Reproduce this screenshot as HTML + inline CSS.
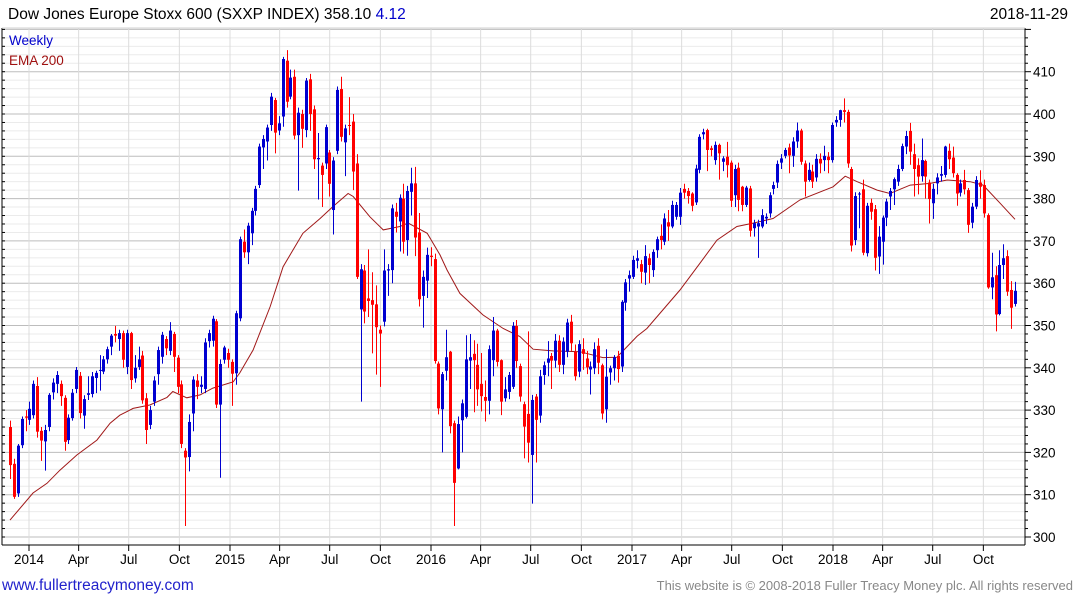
<!DOCTYPE html>
<html><head><meta charset="utf-8"><style>
html,body{margin:0;padding:0;background:#fff;}
svg{display:block;font-family:"Liberation Sans",sans-serif;}
</style></head><body>
<svg id="chart" width="1075" height="600" viewBox="0 0 1075 600" xmlns="http://www.w3.org/2000/svg">
<rect x="0" y="0" width="1075" height="600" fill="#fff"/>
<g id="grid"></g>
<g id="axes"></g>
<g id="ema"></g>
<g id="bars"></g>
<text x="8" y="19" font-size="15.5" fill="#000">Dow Jones Europe Stoxx 600 (SXXP INDEX) 358.10 <tspan fill="#0000cc">4.12</tspan></text>
<text x="1068" y="19" font-size="15.5" fill="#000" text-anchor="end">2018-11-29</text>
<text x="9" y="45" font-size="13.5" fill="#0000cc">Weekly</text>
<text x="9" y="65" font-size="13.5" fill="#a01010">EMA 200</text>
<text x="2" y="590" font-size="15.5" fill="#2222cc">www.fullertreacymoney.com</text>
<text x="1073" y="590" font-size="13" fill="#888" text-anchor="end">This website is © 2008-2018 Fuller Treacy Money plc. All rights reserved</text>
</svg>
<script>
const opens=[326,317.3,310.3,321.7,328.5,327.7,328.8,335.7,325.1,322.6,326,334.2,336.2,336.2,332.9,322.9,328.1,335,338.1,328.7,333.6,333.8,337.6,339.5,339.1,342,345,348,346.8,348.2,340.2,348.2,337.5,340.2,342.9,332.8,326.5,332,338.5,342.6,346.8,344,348,342.4,336.1,320.4,318.9,329.2,337,335.5,335,346.3,346.4,351,331.3,341.9,343.5,341.4,338.7,351.7,369.8,367.3,371.8,377.1,383.2,392.1,393.5,397.4,403.3,396.1,399.4,412.6,404.1,408.8,395,400,396.2,408.2,401.1,389.3,387.8,388.3,390.9,377.3,391.3,405.9,393.3,397.4,398.2,388.3,353.8,363,356.4,356,355,349,350.9,363,363.1,376.9,374.6,380,370.2,381.6,383.6,372,357,360.6,366.5,365.7,341,330.2,339.3,343.8,326.9,316.2,327.6,328.4,341.7,343.3,340.7,336.2,333.1,332.2,341.8,348.8,341.8,332.8,334.3,335.5,349.9,340.4,331.4,329.1,319.4,333.2,328.7,338.3,341.2,342.8,341.7,346.4,340.7,343.8,350.9,343.8,339.1,344.4,342.2,339.6,339.9,345.2,340.6,330.2,338.9,339.9,342.8,340.3,355.4,361.1,361.5,365.3,364.5,362.5,365.9,363.1,367.8,371.2,369.8,374.4,373.4,375.7,375.7,382.3,381.8,381.2,379.1,386.8,395.2,396.2,391.9,389.1,392.7,388.7,389.9,388.5,380.8,387.3,382.8,378.5,382.4,373,373.4,373.4,375.3,376.5,382.3,383.8,388.5,390.1,392.1,390.1,393.5,396.1,388.3,384.4,386.4,385,389.4,389.1,389.9,389.1,398,398.6,400.9,400.5,387,370.2,381.1,382.2,367.1,379,377.5,366.3,369.8,375.5,380.5,382.2,384,387,392.3,396,390.5,387.9,385.3,388.9,383.8,378.9,383.6,385.4,385.6,391.3,389.7,385.6,381.4,384.4,382,374.3,378.1,383.8,383.2,376.1,359,361.9,352.7,364.3,366.4,358.4,355.1];
const closes=[317,309.5,321.6,327.9,328.2,330.3,336.2,324.9,322.8,325.3,333.6,336.5,338.3,333.3,322.5,328.2,334.1,339.5,329.3,332.6,334,338,338.8,339.5,342,344.4,347.6,347.6,348.2,341.9,348.2,337.1,340,342,332.3,325.3,330,337,344.2,347.8,344.6,348.8,342.6,335.5,322,318.8,327.2,337.2,335.5,336,346,348.2,351.6,331.3,340.9,344.8,341.9,338.6,352.9,370.4,367.3,373.6,377.1,382.3,392.3,394.1,396.8,404.1,395.6,397.8,413,402.9,408.6,394.9,400.3,396.5,407.9,400,389.3,389.6,385.6,396.9,383.5,389,405.7,394.6,396.6,397.2,386.4,361.5,363.3,353.3,355.8,354.9,349.6,348.1,363,363.3,377.7,375.7,380.2,369.8,381.8,383.6,370.8,356.2,361.5,366.7,366.2,341.6,330.4,338.5,342.5,326.2,312.8,326.7,331.6,342,342.5,341.8,334.9,333.3,332.2,344.4,348.8,341.4,332,334.9,338.3,349.9,341.6,333.2,326.1,322.3,332.4,327.7,338,340.6,342.2,341.7,346.4,340.7,346.2,350.7,345.8,338,345.6,343.3,340.1,340.3,344.4,341.2,329.2,337.9,339.9,342.5,339.7,355.6,360.2,361.9,365.5,365.9,362.7,366.4,364.3,367.4,370.4,370.2,375.3,373.4,378.5,378.5,381.4,381.4,380.6,378.3,387.1,394.6,395.7,391.5,391.5,392.7,390.7,389.5,387.9,379.5,387,379.7,378.5,382.6,372.4,374.2,374.2,376.1,375.7,380.8,383.2,388.2,389.5,391.5,390.2,393.5,396.1,388.7,384,386.8,384,389.4,388.3,390.1,389.1,397.4,398.6,400.9,400.5,388.3,368.9,380.6,381.2,367.2,378.3,376.9,366,371,375.5,379.3,381.8,384.6,387,392.4,394.8,391.1,387,385.2,389.1,385.2,379.9,382.3,385,385.8,392.3,389.3,386,381.2,383.6,382.2,373.8,378.1,384.4,382.8,376.5,359,361.4,352.6,364.3,365.9,358,354.2,358.2];
const highs=[327.5,318.5,322,328.5,330,332,337,337.8,326,326.5,334,337.5,339.2,337,333.5,329,335,340.2,339,333.5,338,339,339.3,343,342.8,345,348,349.9,349,348.8,349,348.5,343,345,344,334,331,338,345,348.5,347.5,350.8,348.5,343,337,321,329,338,338.5,338,347,349,352.3,351.5,342,345.2,344.5,342,353.5,371,372.7,374.3,377.8,383,393,395,397.5,405,403.8,399.5,413.5,415.1,410.5,410.5,401.5,401,408.5,409.5,402,395.5,388.5,397.5,391.5,389.8,406.5,408.8,397.5,404,400,390.5,364.5,364.3,368,362.6,359.5,350,368,364.5,378.6,379,381,383.5,383,387.3,387.5,376.6,363,368.4,368.5,367,341.5,339,349,344,327.5,328.5,332.5,347.7,348,346.5,345.7,343.5,337,345.3,352,349.2,342,337.8,339,350.8,351.3,341,332,348.6,333.6,333.8,339.5,341.5,346.3,343.5,348,347.7,347.2,351.6,352.5,345.5,346.5,347,344,341.5,346,347,341,344.4,340.5,343,344,356,361,363,366.5,367.8,365.5,369,367,368,371,373.9,376.5,377.3,379.5,379.2,382.5,383.5,382.5,381.5,388,395.2,396.5,396.5,392.5,393.5,393,390,393.4,389,388,388.5,383,383,383,375,375,377.5,376.5,381.5,384,389,390.5,392,393,394.5,398,396.5,389,388.5,388,390.5,390.7,392.5,391,398,399.5,401,403.7,401,387.5,381.5,381.6,384.5,379,380,378.5,373.5,376,380,382.5,385,388,393,396,397.9,393,389.5,394.2,389.2,384.5,383.5,386,387.7,392.5,393,392.3,386,384.5,386.8,382.5,379,385.3,386.7,384.5,376.5,367.2,364,367.8,369.2,367.8,360.5,360.3];
const lows=[313.7,309,309.5,321,325,326.5,328,323.5,318,315.7,325,332.5,334,331,320.4,322,327.5,334,328,325.6,332.4,333,334,334.6,338.5,341,343,346,344,340,338.5,335,336.5,339.5,331.5,322,325.5,331,336,341,343,343,339,334,321,302.6,315.5,325,332.6,334,334,344.8,345,330.5,314,341,340,331,336,351,366,364.5,369,376,382.5,387,389,396,390.7,395,397,401.5,403.5,394,381.9,392,394.5,396,387,379.8,378,387,380.5,371.5,390.5,393.5,385.3,395,382,361,332,350.5,352,343.4,338.4,335.5,349.8,357,360,372,367.5,367,366.5,376,366.4,354.5,349.5,356.5,364,341,329,320,337,324.5,302.6,316,320,328,335,329.5,331,329.7,327.3,329,338,340.3,328.8,332,332.6,335,340,332,318.6,317.6,307.9,317.6,327,336,338,335,340,339,338.5,342.5,344,337,337.8,339.5,338.5,333.7,338.5,338.5,327.8,327,336,337,336.5,339,353.5,358,361,363.5,360,359.6,360,361.5,366,368,369,370,373,375,373.8,380,378.8,377,378.5,386,394,386.5,390,388,384.5,386.5,385,378,378,377,377,378,371,371,366,373,374,375.5,381,382.5,387,389.5,386,387.5,392,388,380.5,384,382.5,384,386,386.5,386,388.5,397,397,398,387.3,367.5,369,373,366.6,366.3,375,363,362.2,364.4,373.5,377.3,378.5,383,386.5,390.5,388,380.5,381,384,380,374.1,375.2,381,384,385,387,385,378.3,380.5,381,371.9,373,377.5,380,375.5,358.7,356.2,348.6,352.4,361,357,349.2,354.5];
const emaWeek=[0,5.9,9.5,12.8,17.2,22.3,25.7,28.2,31.6,35.9,40.3,41.8,45.4,48.8,52.1,57.3,59,62.4,66.8,70.1,75.2,79.6,82.9,86.8,88.1,92.4,95.8,100.1,102.2,107.1,110.4,112.2,115.5,121.4,126.6,130.9,134.3,139.4,146.3,152.2,155.8,161,163.5,172,177.1,181.5,186.6,190.8,195.9,202.8,211.3,214.4,217.5,222.6,225.9,231.1,236.2,240.6,246.5,249.8,254.2,258];
const emaValues=[304,310.4,312.7,315.8,319.4,322.9,326.9,328.8,330.4,331.2,333,334.4,332.9,333.6,335.2,336.7,338.8,344.2,354.5,363.9,371.8,375.3,378.1,381.2,380.5,375.7,372.6,373.4,374.2,371.8,366.7,363.1,357.6,352.5,349.3,347.4,344.4,344,343.8,342.4,342.5,347.5,349.3,358.4,364.7,370.2,373.4,374.2,375.3,379.7,382.8,385.3,384,382,381.2,383.2,383.6,384.4,384,383.2,378.9,375.1];
const yTicks=[300,310,320,330,340,350,360,370,380,390,400,410];
const xTickLabels=["2014","Apr","Jul","Oct","2015","Apr","Jul","Oct","2016","Apr","Jul","Oct","2017","Apr","Jul","Oct","2018","Apr","Jul","Oct"];
const xTickYears=[2014,2014.247,2014.496,2014.748,2015,2015.247,2015.496,2015.748,2016,2016.247,2016.496,2016.748,2017,2017.247,2017.496,2017.748,2018,2018.247,2018.496,2018.748];

const NS="http://www.w3.org/2000/svg";
const L=2,R=1025,T=28,B=545;
const yScale=v=>114+(400-v)*4.23;
const N=closes.length;
const step=(1015-10)/(N-1);
const xBar=i=>10+i*step;
const xDate=yr=>29+(yr-2014)*201;
function mk(tag,attrs,parent){const e=document.createElementNS(NS,tag);for(const k in attrs)e.setAttribute(k,attrs[k]);parent.appendChild(e);return e;}
const grid=document.getElementById('grid'),axes=document.getElementById('axes'),bars=document.getElementById('bars'),emaG=document.getElementById('ema');
for(let v=300;v<=420;v+=2){const y=yScale(v);if(y<T||y>B)continue;const major=v%10===0;
 const ln=mk('line',{x1:L,x2:R,y1:y,y2:y,stroke:major?'#bdbdbd':'#ebebeb','stroke-width':1},grid);
 
 
 const tk=mk('line',{x1:R,x2:R+(major?6:3),y1:y,y2:y,stroke:'#000','stroke-width':1},axes);
 
 
 const lt=mk('line',{x1:L,x2:L+3,y1:y,y2:y,stroke:'#000','stroke-width':1},axes);
 
 
}
yTicks.forEach(v=>{const t=mk('text',{x:R+8,y:yScale(v)+5,'font-size':13.5,fill:'#000'},axes);t.textContent=String(v);
 
 });
xTickYears.forEach((yr,i)=>{const x=xDate(yr);
 const g=mk('line',{x1:x,x2:x,y1:T,y2:B,stroke:'#dcdcdc','stroke-width':1},grid);
 
 
 const tk=mk('line',{x1:x,x2:x,y1:B,y2:B+6,stroke:'#000','stroke-width':1},axes);
 
 
 const t=mk('text',{x:x,y:B+19,'font-size':13.5,fill:'#000','text-anchor':'middle'},axes);t.textContent=xTickLabels[i];
 
 });
[[L,T,L,B,'#000'],[R,T,R,B,'#000'],[L,B,R,B,'#000'],[L,T,R,T,'#d0d0d0']].forEach(a=>{const f=mk('line',{x1:a[0],y1:a[1],x2:a[2],y2:a[3],stroke:a[4],'stroke-width':1},axes);
 
 });
const pts=emaWeek.map((w,i)=>xBar(w).toFixed(1)+','+yScale(emaValues[i]).toFixed(1)).join(' ');
const pl=mk('polyline',{points:pts,fill:'none',stroke:'#a01818','stroke-width':1},emaG);


for(let i=0;i<N;i++){const x=xBar(i);const up=closes[i]>=opens[i];const col=up?'#0000d0':'#ff0000';
 const g=mk('g',{},bars);
 
 
 const xc=Math.round(x)+0.5;
 mk('line',{x1:xc,x2:xc,y1:yScale(highs[i]),y2:yScale(lows[i]),stroke:col,'stroke-width':1},g);
 const yt=yScale(Math.max(opens[i],closes[i])),yb=yScale(Math.min(opens[i],closes[i]));
 mk('rect',{x:xc-1.5,y:yt,width:3,height:Math.max(1,yb-yt),fill:col},g);
}
</script>
</body></html>
